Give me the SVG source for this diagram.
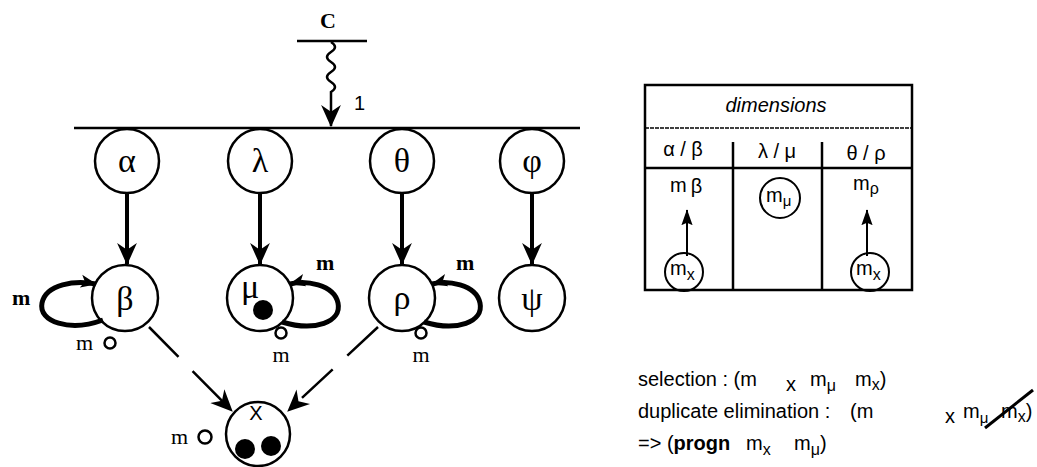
<svg xmlns="http://www.w3.org/2000/svg" width="1037" height="467" viewBox="0 0 1037 467">
<style>
.n{fill:#fff;stroke:#000;stroke-width:2.5}
.g{font-family:"Liberation Serif",serif;font-size:34px;text-anchor:middle}
.s{font-family:"Liberation Sans",sans-serif;font-size:20px}
.b{font-family:"Liberation Serif",serif;font-weight:bold;font-size:22px}
.sm{font-family:"Liberation Serif",serif;font-size:22px}
.thick{stroke:#000;stroke-width:4;fill:none}
.loop{stroke:#000;stroke-width:5;fill:none}
.dash{stroke:#000;stroke-width:2.5;fill:none;stroke-dasharray:42 20}
.ln{stroke:#000;stroke-width:2.5;fill:none}
</style>
<defs>
<marker id="ah" viewBox="0 0 20 20" refX="19" refY="10" markerWidth="22" markerHeight="22" markerUnits="userSpaceOnUse" orient="auto">
<path d="M0,1 L20,10 L0,19 L6,10 Z" fill="#000"/>
</marker>
<marker id="ahs" viewBox="0 0 20 20" refX="19" refY="10" markerWidth="16" markerHeight="16" markerUnits="userSpaceOnUse" orient="auto">
<path d="M0,2 L20,10 L0,18 L5,10 Z" fill="#000"/>
</marker>
<marker id="ahl" viewBox="0 0 20 20" refX="19" refY="10" markerWidth="16" markerHeight="16" markerUnits="userSpaceOnUse" orient="auto">
<path d="M0,3 L20,10 L0,17 L3,10 Z" fill="#000"/>
</marker>
</defs>

<g id="top">
<text x="328" y="28" class="b" font-size="28" text-anchor="middle">C</text>
<line x1="297" y1="41" x2="367" y2="41" class="ln"/>
<text x="354" y="110" class="s" font-size="22">1</text>
<line x1="74" y1="128" x2="580" y2="128" class="ln"/>
</g>

<g id="node-alpha"><circle cx="127" cy="161" r="32" class="n"/><text x="127" y="172" class="g">α</text></g>
<g id="node-lambda"><circle cx="260" cy="161" r="32" class="n"/><text x="260" y="172" class="g">λ</text></g>
<g id="node-theta"><circle cx="402" cy="161" r="32" class="n"/><text x="402" y="172" class="g">θ</text></g>
<g id="node-phi"><circle cx="532" cy="161" r="32" class="n"/><text x="532" y="172" class="g">φ</text></g>

<g id="node-beta"><circle cx="125" cy="298" r="33" class="n"/><text x="125" y="310" class="g">β</text></g>
<g id="node-mu"><circle cx="260" cy="298" r="33" class="n"/><text x="250" y="298" class="g">μ</text><circle cx="263" cy="310" r="10" fill="#000"/></g>
<g id="node-rho"><circle cx="402" cy="298" r="33" class="n"/><text x="402" y="309" class="g">ρ</text></g>
<g id="node-psi"><circle cx="532" cy="298" r="33" class="n"/><text x="532" y="310" class="g">ψ</text></g>
<g id="node-x"><circle cx="258" cy="434" r="32" class="n"/><text x="256" y="420" class="s" font-size="23" text-anchor="middle">X</text><circle cx="245" cy="449" r="10" fill="#000"/><circle cx="271" cy="446" r="10" fill="#000"/></g>

<g id="connectors">
<path d="M331,42 q8,5 0,10 q-8,5 0,10 q8,5 0,10 q-8,5 0,10 q8,5 0,10 L331,126" class="ln" marker-end="url(#ah)"/>
<line x1="127" y1="193" x2="127" y2="264" class="thick" marker-end="url(#ah)"/>
<line x1="260" y1="193" x2="260" y2="264" class="thick" marker-end="url(#ah)"/>
<line x1="402" y1="193" x2="402" y2="264" class="thick" marker-end="url(#ah)"/>
<line x1="532" y1="193" x2="532" y2="264" class="thick" marker-end="url(#ah)"/>
<path d="M103,320 C70,332 38,322 42,303 C46,284 75,280 96,284" class="loop" marker-end="url(#ahs)"/>
<path d="M282,322 C315,332 342,322 338,303 C334,284 305,280 290,284" class="loop" marker-end="url(#ahs)"/>
<path d="M424,322 C457,332 484,322 480,303 C476,284 447,280 432,284" class="loop" marker-end="url(#ahs)"/>
<path d="M149,327 L232,411" class="dash" marker-end="url(#ah)"/>
<path d="M378,327 L288,411" class="dash" marker-end="url(#ah)"/>
</g>

<g id="labels">
<text x="12" y="305" class="b">m</text>
<text x="76" y="350" class="sm">m</text><circle cx="110" cy="343" r="5.5" class="ln"/>
<text x="316" y="270" class="b">m</text>
<circle cx="281" cy="333" r="5.5" class="ln"/><text x="281" y="362" class="sm" text-anchor="middle">m</text>
<text x="456" y="270" class="b">m</text>
<circle cx="421" cy="333" r="5.5" class="ln"/><text x="421" y="362" class="sm" text-anchor="middle">m</text>
<text x="171" y="444" class="sm">m</text><circle cx="205" cy="437" r="6.5" class="ln"/>
</g>

<g id="table">
<rect x="645" y="85" width="267" height="205" fill="none" stroke="#000" stroke-width="2.5"/>
<line x1="645" y1="128" x2="912" y2="128" stroke="#000" stroke-width="1.5" stroke-dasharray="4 1"/>
<line x1="645" y1="168" x2="912" y2="168" stroke="#000" stroke-width="2.5"/>
<line x1="733" y1="142" x2="733" y2="290" stroke="#000" stroke-width="2.5"/>
<line x1="822" y1="142" x2="822" y2="290" stroke="#000" stroke-width="2.5"/>
<text x="776" y="112" class="s" font-style="italic" text-anchor="middle">dimensions</text>
<text x="683" y="156" class="s" text-anchor="middle">α / β</text>
<text x="777" y="158" class="s" text-anchor="middle">λ / μ</text>
<text x="866" y="160" class="s" text-anchor="middle">θ / ρ</text>
<text x="670" y="192" class="s">m<tspan dx="4" dy="1">β</tspan></text>
<circle cx="780" cy="198" r="20" fill="none" stroke="#000" stroke-width="2"/>
<text x="766" y="202" class="s">m<tspan font-size="15" dy="4">μ</tspan></text>
<text x="853" y="190" class="s">m<tspan font-size="16" dy="4">ρ</tspan></text>
<line x1="687" y1="256" x2="687" y2="210" stroke="#000" stroke-width="2" marker-end="url(#ahl)"/>
<line x1="867" y1="256" x2="867" y2="210" stroke="#000" stroke-width="2" marker-end="url(#ahl)"/>
<circle cx="684" cy="272" r="19" fill="none" stroke="#000" stroke-width="2"/>
<text x="670" y="275" class="s">m<tspan font-size="16" dy="5">x</tspan></text>
<circle cx="870" cy="272" r="19" fill="none" stroke="#000" stroke-width="2"/>
<text x="856" y="275" class="s">m<tspan font-size="16" dy="5">x</tspan></text>
</g>

<g id="notes">
<text x="638" y="386" class="s">selection : (m<tspan x="786" dy="5">x</tspan><tspan x="810" dy="-5">m</tspan><tspan dy="5" font-size="16">μ</tspan><tspan x="855" dy="-5">m</tspan><tspan dy="4" font-size="16">x</tspan><tspan dy="-4">)</tspan></text>
<text x="638" y="418" class="s">duplicate elimination :<tspan x="850">(m</tspan><tspan x="945" dy="5">x</tspan><tspan x="963" dy="-5">m</tspan><tspan dy="5" font-size="15">μ</tspan><tspan x="1001" dy="-5">m</tspan><tspan dy="4" font-size="16">x</tspan><tspan dy="-4">)</tspan></text>
<line x1="985" y1="428" x2="1033" y2="390" stroke="#000" stroke-width="3"/>
<text x="638" y="450" class="s">=&gt; (<tspan font-weight="bold">progn</tspan><tspan x="746">m</tspan><tspan dy="5" font-size="16">x</tspan><tspan x="794" dy="-5">m</tspan><tspan dy="5" font-size="16">μ</tspan><tspan dy="-5">)</tspan></text>
</g>
</svg>
